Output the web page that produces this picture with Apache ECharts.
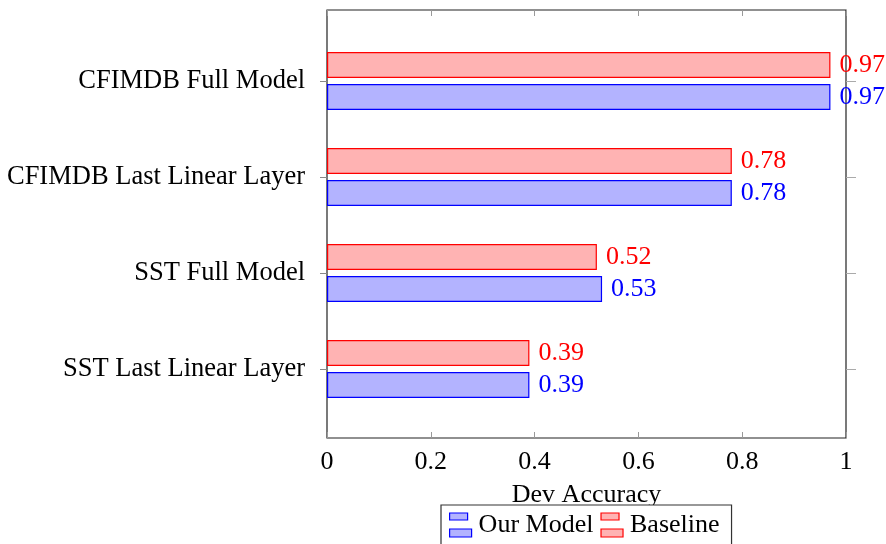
<!DOCTYPE html>
<html>
<head>
<meta charset="utf-8">
<script src="https://cdn.jsdelivr.net/npm/echarts@6/dist/echarts.min.js"></script>
<style>html,body{margin:0;padding:0;background:#fff}#c{width:886px;height:544px}</style>
</head>
<body>
<div id="c"></div>
<script>
var categories = ['CFIMDB Full Model', 'CFIMDB Last Linear Layer', 'SST Full Model', 'SST Last Linear Layer'];
var ourModel = [0.97, 0.78, 0.53, 0.39];
var baseline = [0.97, 0.78, 0.52, 0.39];
var xTicks = [0, 0.2, 0.4, 0.6, 0.8, 1];

var chart = echarts.init(document.getElementById('c'), null, {renderer: 'canvas'});
var serif = '"Liberation Serif", "Times New Roman", serif';
var FS = 26;
var legendIcon = 'path://M0,0H18V7H0Z M0,16H22V24H0Z';

function fmt(p) { return p.value.toFixed(2); }

chart.setOption({
  animation: false,
  textStyle: {fontFamily: serif},
  grid: [
    {left: 327, top: 10, width: 519, height: 428, show: true, borderColor: '#222', borderWidth: 1.2, backgroundColor: 'transparent'},
    {left: 327, top: 33, width: 519, height: 384}
  ],
  xAxis: [
    {gridIndex: 0, type: 'value', min: 0, max: 1, interval: 0.2, position: 'bottom',
     name: 'Dev Accuracy', nameLocation: 'middle', nameGap: 44,
     nameTextStyle: {fontFamily: serif, fontSize: FS, color: '#000'},
     axisLine: {show: false}, splitLine: {show: false},
     axisTick: {show: true, inside: true, length: 6, lineStyle: {color: '#999'}},
     axisLabel: {fontFamily: serif, fontSize: FS, color: '#000', margin: 11,
       formatter: function (v) { return xTicks.indexOf(+v.toFixed(1)) >= 0 ? String(+v.toFixed(1)) : ''; }}},
    {gridIndex: 0, type: 'value', min: 0, max: 1, interval: 0.2, position: 'top',
     axisLine: {show: false}, splitLine: {show: false},
     axisTick: {show: true, inside: true, length: 6, lineStyle: {color: '#999'}},
     axisLabel: {show: false}},
    {gridIndex: 1, type: 'value', min: 0, max: 1, show: false}
  ],
  yAxis: [
    {gridIndex: 1, type: 'category', data: categories, inverse: true, position: 'left',
     axisLine: {show: false},
     axisTick: {show: true, alignWithLabel: true, length: 7, lineStyle: {color: '#888'}},
     axisLabel: {fontFamily: serif, fontSize: 26.5, color: '#000', margin: 22}},
    {gridIndex: 1, type: 'category', data: categories, inverse: true, position: 'right',
     axisLine: {show: false},
     axisTick: {show: true, alignWithLabel: true, length: 10, lineStyle: {color: '#aaa'}},
     axisLabel: {show: false}},
    {gridIndex: 0, type: 'value', min: 0, max: 1, show: false}
  ],
  legend: {
    left: 441, top: 505,
    data: [{name: 'Our Model'}, {name: 'Baseline'}],
    icon: legendIcon, itemWidth: 22, itemHeight: 24, itemGap: 7,
    backgroundColor: '#fff',
    borderColor: '#333', borderWidth: 1.2, padding: [7, 12, 12, 8],
    itemStyle: {borderWidth: 1.2},
    textStyle: {fontFamily: serif, fontSize: FS, color: '#000', padding: [0, 0, 0, 2]}
  },
  series: [
    {name: 'Baseline', type: 'bar', xAxisIndex: 2, yAxisIndex: 0, data: baseline,
     barWidth: 26, barGap: '23%',
     itemStyle: {color: '#ffb3b3', borderColor: '#ff0000', borderWidth: 1.2},
     label: {show: true, position: 'right', distance: 9, formatter: fmt,
       fontFamily: serif, fontSize: FS, color: '#ff0000'}},
    {name: 'Our Model', type: 'bar', xAxisIndex: 2, yAxisIndex: 0, data: ourModel,
     barWidth: 26, barGap: '23%',
     itemStyle: {color: '#b3b3ff', borderColor: '#0000ff', borderWidth: 1.2},
     label: {show: true, position: 'right', distance: 9, formatter: fmt,
       fontFamily: serif, fontSize: FS, color: '#0000ff'}}
  ]
});
</script>
</body>
</html>
